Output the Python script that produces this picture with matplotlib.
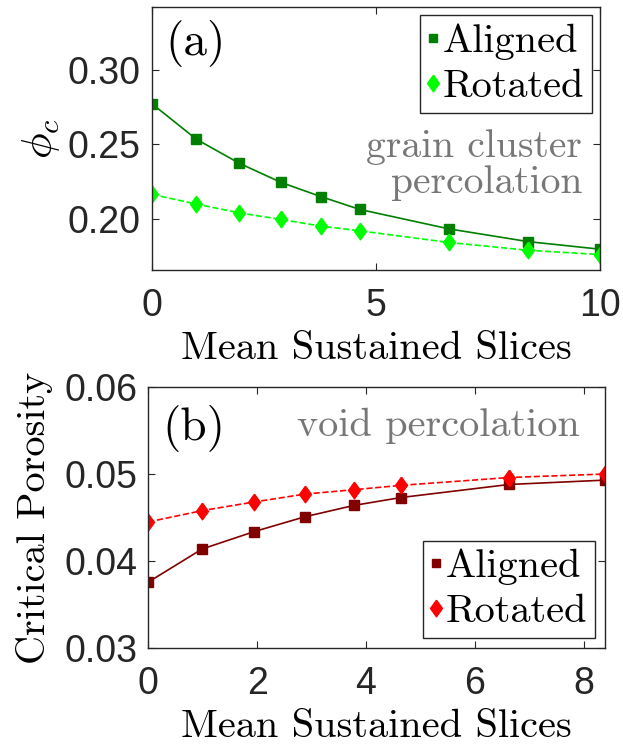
import matplotlib
matplotlib.use("Agg")
import matplotlib.pyplot as plt
from matplotlib.lines import Line2D

# mean sustained slices
slices = [0, 0.99, 1.95, 2.88, 3.78, 4.64, 6.63, 8.39, 10]

# (a) grain cluster percolation threshold
grain_aligned = [0.2772, 0.2535, 0.2374, 0.2246, 0.2150, 0.2065, 0.1935, 0.1850, 0.1799]
grain_rotated = [0.2166, 0.2101, 0.2042, 0.1998, 0.1953, 0.1922, 0.1844, 0.1792, 0.1763]

# (b) void percolation, critical porosity
void_aligned = [0.0376, 0.0414, 0.0434, 0.0451, 0.0464, 0.0473, 0.0488, 0.0493]
void_rotated = [0.0445, 0.0458, 0.0468, 0.0477, 0.0482, 0.0487, 0.0496, 0.0500]

SERIF = "cmr10"
TICKFONT = "Liberation Sans"
plt.rcParams["mathtext.fontset"] = "cm"
plt.rcParams["axes.unicode_minus"] = False

# matlab-ish diamond, taller than wide
DIAMOND = [(0, 1), (0.72, 0), (0, -1), (-0.72, 0), (0, 1)]

fig = plt.figure(figsize=(6.23, 7.47), dpi=100)
ax1 = fig.add_axes([0.244, 0.6386, 0.719, 0.352])
ax2 = fig.add_axes([0.238, 0.1321, 0.733, 0.350])


def style(ax):
    ax.tick_params(direction="in", top=True, right=True, length=5, width=0.8,
                   labelsize=27, colors="#262626")
    ax.tick_params(axis="x", pad=13)
    ax.tick_params(axis="y", pad=8)
    for lab in ax.get_xticklabels() + ax.get_yticklabels():
        lab.set_fontfamily(TICKFONT)
    for s in ax.spines.values():
        s.set_color("#262626")
        s.set_linewidth(1.0)


def legend(ax, c1, c2, **kw):
    h = [Line2D([], [], ls="none", marker="s", color=c1, ms=6),
         Line2D([], [], ls="none", marker=DIAMOND, color=c2, ms=12)]
    leg = ax.legend(h, ["Aligned", "Rotated"], prop={"family": SERIF, "size": 29},
                    handlelength=0.25, handletextpad=0.1, borderpad=0.2,
                    labelspacing=0.22, fancybox=False, framealpha=1,
                    edgecolor="#262626", numpoints=1, **kw)
    leg.get_frame().set_linewidth(1.0)
    return leg


# panel (a)
ax1.plot(slices, grain_aligned, "-s", color="#007f00", ms=7, lw=1.2)
ax1.plot(slices, grain_rotated, "--", marker=DIAMOND, color="#00ff00", ms=12, lw=1.2)
ax1.set_xlim(0, 10)
ax1.set_ylim(0.166, 0.342)
ax1.set_xticks([0, 5, 10])
ax1.set_yticks([0.20, 0.25, 0.30])
ax1.set_yticklabels(["0.20", "0.25", "0.30"])
style(ax1)
ax1.set_xlabel("Mean Sustained Slices", fontfamily=SERIF, fontsize=29, labelpad=5)
ax1.set_ylabel(r"$\phi_c$", fontsize=31, labelpad=4)
ax1.text(0.03, 0.95, "(a)", transform=ax1.transAxes, fontfamily=SERIF,
         fontsize=34, va="top", ha="left")
ax1.text(0.96, 0.40, "grain cluster\npercolation", transform=ax1.transAxes,
         fontfamily=SERIF, fontsize=28.5, color="#777777", ha="right", va="center",
         linespacing=1.0)
legend(ax1, "#007f00", "#00ff00", loc="upper right", borderaxespad=0.2)

# panel (b)
ax2.plot(slices[:8], void_aligned, "-s", color="#800000", ms=7, lw=1.2)
ax2.plot(slices[:8], void_rotated, "--", marker=DIAMOND, color="#ff0000", ms=12, lw=1.2)
ax2.set_xlim(0, slices[7])
ax2.set_ylim(0.03, 0.06)
ax2.set_xticks([0, 2, 4, 6, 8])
ax2.set_yticks([0.03, 0.04, 0.05, 0.06])
ax2.set_yticklabels(["0.03", "0.04", "0.05", "0.06"])
style(ax2)
ax2.set_xlabel("Mean Sustained Slices", fontfamily=SERIF, fontsize=29, labelpad=5)
ax2.set_ylabel("Critical Porosity", fontfamily=SERIF, fontsize=29, labelpad=8)
ax2.text(0.03, 0.93, "(b)", transform=ax2.transAxes, fontfamily=SERIF,
         fontsize=34, va="top", ha="left")
ax2.text(0.945, 0.85, "void percolation", transform=ax2.transAxes,
         fontfamily=SERIF, fontsize=29, color="#777777", ha="right", va="center")
legend(ax2, "#800000", "#ff0000", loc="lower right", borderaxespad=0.25)

fig.savefig("out.png", dpi=100)
